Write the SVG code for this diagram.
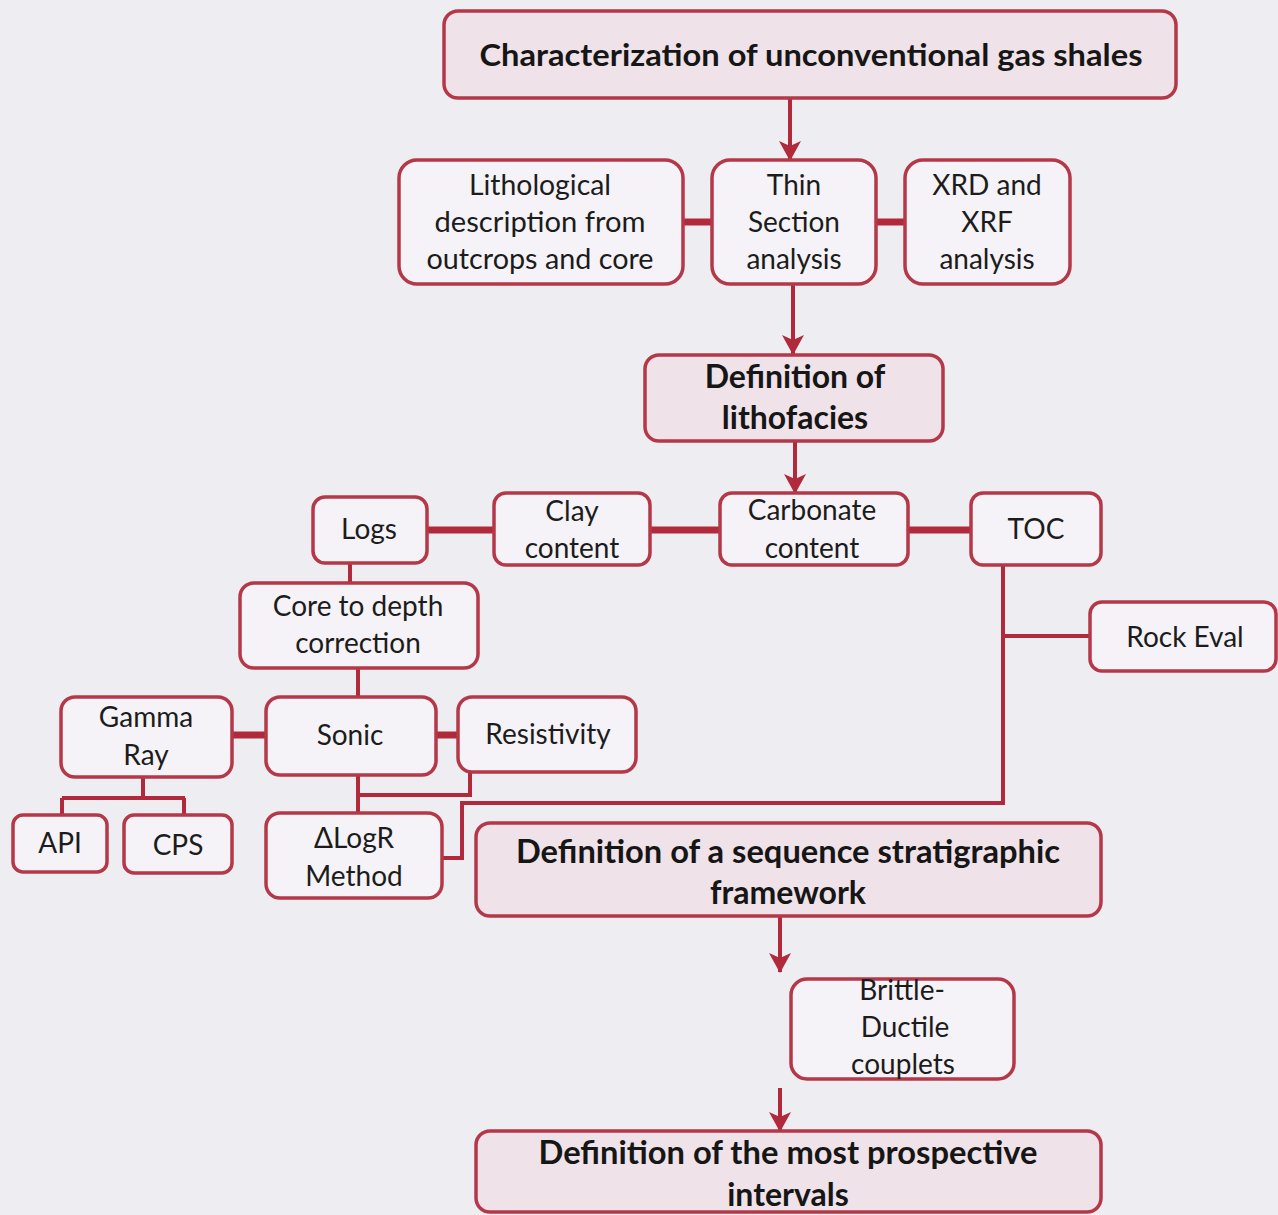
<svg xmlns="http://www.w3.org/2000/svg" width="1278" height="1215" viewBox="0 0 1278 1215">
<defs>
<style>
.bg{fill:#eeedf2}
.box{fill:#f5f3f7;stroke:#b43848;stroke-width:3.5}
.main{fill:#efe2e8;stroke:#b43848;stroke-width:3.5}
.t{font-family:Lato,"Liberation Sans",sans-serif;font-size:28px;fill:#1c1c1c;text-anchor:middle}
.b{font-family:Lato,"Liberation Sans",sans-serif;font-size:32px;font-weight:bold;fill:#161616;text-anchor:middle}
.c{fill:none;stroke:#b02a3b;stroke-width:4}
.k{fill:none;stroke:#b02a3b;stroke-width:7}
.a{fill:none;stroke:#b02a3b;stroke-width:4;marker-end:url(#ah)}
</style>
<marker id="ah" markerUnits="userSpaceOnUse" viewBox="0 0 20 22" markerWidth="20" markerHeight="22" refX="19" refY="11" orient="auto">
<path d="M0,0 L20,11 L0,22 L5,11 z" fill="#b02a3b"/>
</marker>
</defs>
<rect class="bg" x="0" y="0" width="1278" height="1215"/>
<g id="connectors">
<path class="a" d="M790,98 V160"/>
<path class="k" d="M683,222 H712"/>
<path class="k" d="M876,222 H905"/>
<path class="a" d="M793,284 V354"/>
<path class="a" d="M795,441 V493"/>
<path class="k" d="M427,530 H494"/>
<path class="k" d="M650,530 H720"/>
<path class="k" d="M908,530 H971"/>
<path class="c" d="M350,563 V583"/>
<path class="c" d="M358,668 V697"/>
<path class="k" d="M232,735 H266"/>
<path class="k" d="M436,735 H458"/>
<path class="c" d="M143,777 V798 M62,798 H185 M62,798 V815 M184,798 V815"/>
<path class="c" d="M358,775 V813 M470,772 V795 H358"/>
<path class="c" d="M1003,565 V803 H462 V858 H442"/>
<path class="c" d="M1003,636 H1090"/>
<path class="a" d="M780,916 V972"/>
<path class="a" d="M780,1088 V1131"/>
</g>
<g id="n-top"><rect class="main" x="444" y="11" width="732" height="87" rx="14"/><text class="b" style="font-size:30px" x="811" y="66" textLength="663" lengthAdjust="spacingAndGlyphs">Characterization of unconventional  gas shales</text></g>
<g id="n-litho"><rect class="box" x="399" y="160" width="284" height="124" rx="18"/>
<text class="t" x="540" y="195" textLength="142" lengthAdjust="spacingAndGlyphs">Lithological</text>
<text class="t" x="540" y="232" textLength="211" lengthAdjust="spacingAndGlyphs">description from</text>
<text class="t" x="540" y="269" textLength="227" lengthAdjust="spacingAndGlyphs">outcrops and core</text></g>
<g id="n-thin"><rect class="box" x="712" y="160" width="164" height="124" rx="18"/>
<text class="t" x="794" y="195">Thin</text>
<text class="t" x="794" y="232">Section</text>
<text class="t" x="794" y="269">analysis</text></g>
<g id="n-xrd"><rect class="box" x="905" y="160" width="165" height="124" rx="18"/>
<text class="t" x="987" y="195">XRD and</text>
<text class="t" x="987" y="232">XRF</text>
<text class="t" x="987" y="269">analysis</text></g>
<g id="n-lithofacies"><rect class="main" x="645" y="355" width="298" height="86" rx="14"/>
<text class="b" x="795" y="388">Definition of</text>
<text class="b" x="795" y="429">lithofacies</text></g>
<g id="n-logs"><rect class="box" x="313" y="497" width="114" height="66" rx="12"/><text class="t" x="369" y="539">Logs</text></g>
<g id="n-clay"><rect class="box" x="494" y="493" width="156" height="72" rx="12"/>
<text class="t" x="572" y="521">Clay</text><text class="t" x="572" y="558">content</text></g>
<g id="n-carb"><rect class="box" x="720" y="493" width="188" height="72" rx="12"/>
<text class="t" x="812" y="520">Carbonate</text><text class="t" x="812" y="558">content</text></g>
<g id="n-toc"><rect class="box" x="971" y="493" width="130" height="72" rx="12"/><text class="t" x="1036" y="539">TOC</text></g>
<g id="n-rock"><rect class="box" x="1090" y="602" width="186" height="69" rx="12"/><text class="t" x="1185" y="647">Rock Eval</text></g>
<g id="n-core"><rect class="box" x="240" y="583" width="238" height="85" rx="14"/>
<text class="t" x="358" y="616">Core to depth</text><text class="t" x="358" y="653">correction</text></g>
<g id="n-gamma"><rect class="box" x="61" y="697" width="171" height="80" rx="14"/>
<text class="t" x="146" y="727">Gamma</text><text class="t" x="146" y="765">Ray</text></g>
<g id="n-sonic"><rect class="box" x="266" y="697" width="170" height="78" rx="14"/><text class="t" x="350" y="745">Sonic</text></g>
<g id="n-resist"><rect class="box" x="458" y="697" width="178" height="75" rx="14"/><text class="t" x="548" y="744">Resistivity</text></g>
<g id="n-api"><rect class="box" x="13" y="815" width="94" height="57" rx="10"/><text class="t" x="60" y="853">API</text></g>
<g id="n-cps"><rect class="box" x="124" y="815" width="108" height="58" rx="10"/><text class="t" x="178" y="855">CPS</text></g>
<g id="n-dlogr"><rect class="box" x="266" y="813" width="176" height="85" rx="14"/>
<text class="t" x="354" y="848">ΔLogR</text><text class="t" x="354" y="886">Method</text></g>
<g id="n-seq"><rect class="main" x="476" y="823" width="625" height="93" rx="14"/>
<text class="b" x="788" y="863" textLength="544" lengthAdjust="spacingAndGlyphs">Definition of a sequence stratigraphic</text>
<text class="b" x="788" y="904">framework</text></g>
<g id="n-brittle"><rect class="box" x="791" y="979" width="223" height="100" rx="16"/>
<text class="t" x="902" y="1000">Brittle-</text><text class="t" x="905" y="1037">Ductile</text><text class="t" x="903" y="1074">couplets</text></g>
<g id="n-prosp"><rect class="main" x="476" y="1131" width="625" height="81" rx="14"/>
<text class="b" x="788" y="1164" textLength="499" lengthAdjust="spacingAndGlyphs">Definition of the most prospective</text>
<text class="b" x="788" y="1206">intervals</text></g>
</svg>
